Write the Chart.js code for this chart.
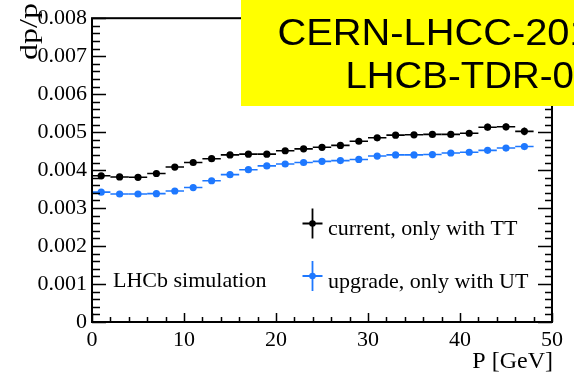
<!DOCTYPE html>
<html>
<head>
<meta charset="utf-8">
<script src="https://cdn.jsdelivr.net/npm/chart.js@4/dist/chart.umd.min.js"></script>
<style>
  html, body { margin: 0; padding: 0; background: #fff; }
  canvas { display: block; }
</style>
</head>
<body>
<canvas id="res" width="574" height="376"></canvas>
<script>
// Momentum bin centres [GeV] (bins are 2 GeV wide)
const momentum = [1, 3, 5, 7, 9, 11, 13, 15, 17, 19, 21, 23, 25, 27, 29, 31, 33, 35, 37, 39, 41, 43, 45, 47];
const binHalfWidth = 1;

// Relative momentum resolution dp/p, current tracker (with TT)
const currentTT = [0.00385, 0.00382, 0.00381, 0.00391, 0.00408, 0.00420, 0.00430, 0.00440,
                   0.00442, 0.00442, 0.00451, 0.00456, 0.00460, 0.00465, 0.00476, 0.00485,
                   0.00492, 0.00493, 0.00494, 0.00494, 0.00497, 0.00513, 0.00514, 0.00502];
const currentErr = [0.00003, 0.00003, 0.00003, 0.00003, 0.00003, 0.00003, 0.00003, 0.00003,
                    0.00003, 0.00003, 0.00003, 0.00003, 0.00003, 0.00003, 0.00004, 0.00004,
                    0.00004, 0.00004, 0.00005, 0.00005, 0.00006, 0.00009, 0.00009, 0.00010];

// Relative momentum resolution dp/p, upgraded tracker (with UT)
const upgradeUT = [0.00342, 0.00337, 0.00337, 0.00338, 0.00345, 0.00354, 0.00372, 0.00388,
                   0.00401, 0.00411, 0.00416, 0.00420, 0.00423, 0.00425, 0.00428, 0.00437,
                   0.00440, 0.00440, 0.00441, 0.00445, 0.00447, 0.00452, 0.00458, 0.00462];
const upgradeErr = [0.00002, 0.00002, 0.00002, 0.00002, 0.00002, 0.00002, 0.00002, 0.00002,
                    0.00002, 0.00002, 0.00002, 0.00002, 0.00002, 0.00002, 0.00003, 0.00003,
                    0.00003, 0.00003, 0.00003, 0.00003, 0.00003, 0.00004, 0.00004, 0.00004];

const xTickLabels = ['0', '10', '20', '30', '40', '50'];
const yTickLabels = ['0', '0.001', '0.002', '0.003', '0.004', '0.005', '0.006', '0.007', '0.008'];

const seriesNames = ['current, only with TT', 'upgrade, only with UT'];
const annotation = 'LHCb simulation';
const docRefs = ['CERN-LHCC-2014-001', 'LHCB-TDR-015'];
const xTitle = 'P [GeV]';
const yTitle = 'dp/p';

const BLACK = '#000000';
const BLUE = '#1e78ff';
const SERIF = '"Liberation Serif", "DejaVu Serif", serif';
const SANS = '"Liberation Sans", Arial, sans-serif';

const toPoints = (ys, errs) => momentum.map((x, i) => ({ x: x, y: ys[i], err: errs[i] }));

// Horizontal bin-width bars and vertical error bars under the markers
const errorBars = {
  id: 'errorBars',
  beforeDatasetsDraw(chart) {
    const { ctx, scales: { x, y } } = chart;
    ctx.save();
    ctx.lineWidth = 1.6;
    chart.data.datasets.forEach(ds => {
      ctx.strokeStyle = ds.borderColor;
      ds.data.forEach(p => {
        const py = y.getPixelForValue(p.y);
        ctx.beginPath();
        ctx.moveTo(x.getPixelForValue(p.x - binHalfWidth), py);
        ctx.lineTo(x.getPixelForValue(p.x + binHalfWidth), py);
        const px = x.getPixelForValue(p.x);
        ctx.moveTo(px, y.getPixelForValue(p.y - p.err));
        ctx.lineTo(px, y.getPixelForValue(p.y + p.err));
        ctx.stroke();
      });
    });
    ctx.restore();
  }
};

// Draws text at (x, baseline) stretched horizontally by sx
function stretchedText(ctx, text, x, yb, sx) {
  ctx.save();
  ctx.translate(x, yb);
  ctx.scale(sx, 1);
  ctx.fillText(text, 0, 0);
  ctx.restore();
}

// Frame, inward tick marks, legend, titles and the label box
const decorations = {
  id: 'decorations',
  beforeDraw(chart) {
    const ctx = chart.ctx;
    ctx.save();
    ctx.fillStyle = '#ffffff';
    ctx.fillRect(0, 0, chart.width, chart.height);
    ctx.restore();
  },
  afterDraw(chart) {
    const { ctx, chartArea: a, scales: { x, y } } = chart;
    ctx.save();
    ctx.strokeStyle = BLACK;

    // frame
    ctx.lineWidth = 2;
    ctx.strokeRect(a.left, a.top, a.right - a.left, a.bottom - a.top);

    // y ticks: left and right, 5 subdivisions per major step
    ctx.lineWidth = 1.5;
    ctx.beginPath();
    for (let k = 0; k <= 40; k++) {
      const py = Math.round(y.getPixelForValue(k * 0.0002)) + 0.5;
      const major = k % 5 === 0;
      ctx.moveTo(a.left, py); ctx.lineTo(a.left + (major ? 14 : 8), py);
      ctx.moveTo(a.right, py); ctx.lineTo(a.right - (major ? 14 : 7), py);
    }
    // x ticks: bottom, 5 subdivisions per major step
    for (let k = 0; k <= 25; k++) {
      const px = Math.round(x.getPixelForValue(k * 2)) + 0.5;
      const major = k % 5 === 0;
      ctx.moveTo(px, a.bottom); ctx.lineTo(px, a.bottom - (major ? 9 : 5));
    }
    ctx.stroke();

    // legend
    const entries = [{ cy: 223.5, ds: chart.data.datasets[0] }, { cy: 276, ds: chart.data.datasets[1] }];
    const lx = 312.5;
    entries.forEach(e => {
      ctx.strokeStyle = e.ds.borderColor;
      ctx.fillStyle = e.ds.backgroundColor;
      ctx.lineWidth = 1.8;
      ctx.beginPath();
      ctx.moveTo(lx - 10, e.cy); ctx.lineTo(lx + 10, e.cy);
      ctx.moveTo(lx, e.cy - 15); ctx.lineTo(lx, e.cy + 15);
      ctx.stroke();
      ctx.beginPath();
      ctx.arc(lx, e.cy, 3.3, 0, Math.PI * 2);
      ctx.fill();
      ctx.fillStyle = BLACK;
      ctx.font = '22px ' + SERIF;
      ctx.textAlign = 'left';
      ctx.textBaseline = 'alphabetic';
      ctx.fillText(e.ds.label, 328, e.cy + 11.5);
    });

    // annotation
    ctx.fillStyle = BLACK;
    ctx.font = '22px ' + SERIF;
    ctx.fillText(annotation, 113, 287);

    // x axis title
    ctx.font = '24px ' + SERIF;
    ctx.textAlign = 'right';
    ctx.fillText(xTitle, a.right + 1, 368);

    // y axis title, rotated, ending at the top
    ctx.save();
    ctx.font = '26px ' + SERIF;
    const w = ctx.measureText(yTitle).width;
    ctx.translate(37, 3);
    ctx.rotate(-Math.PI / 2);
    ctx.scale(57 / w, 1);
    ctx.textAlign = 'right';
    ctx.fillText(yTitle, 0, 0);
    ctx.restore();

    // document reference box
    ctx.fillStyle = '#ffff00';
    ctx.fillRect(241, 0, chart.width - 241, 106);
    ctx.fillStyle = BLACK;
    ctx.font = '37px ' + SANS;
    ctx.textAlign = 'left';
    stretchedText(ctx, docRefs[0], 277.5, 45, 1.076);
    stretchedText(ctx, docRefs[1], 345.5, 87.5, 1.038);

    ctx.restore();
  }
};

new Chart(document.getElementById('res'), {
  type: 'scatter',
  data: {
    datasets: [
      {
        label: seriesNames[0],
        data: toPoints(currentTT, currentErr),
        backgroundColor: BLACK,
        borderColor: BLACK,
        pointRadius: 3.6,
        pointBorderWidth: 0,
        showLine: false
      },
      {
        label: seriesNames[1],
        data: toPoints(upgradeUT, upgradeErr),
        backgroundColor: BLUE,
        borderColor: BLUE,
        pointRadius: 3.6,
        pointBorderWidth: 0,
        showLine: false
      }
    ]
  },
  options: {
    responsive: false,
    animation: false,
    events: [],
    layout: { padding: { top: 15, right: 22, left: 0, bottom: 0 } },
    plugins: { legend: { display: false }, tooltip: { enabled: false } },
    scales: {
      x: {
        type: 'linear',
        min: 0,
        max: 50,
        grid: { display: false, drawTicks: false },
        border: { display: false },
        ticks: {
          stepSize: 10,
          padding: 5,
          color: BLACK,
          font: { family: SERIF, size: 22 },
          maxRotation: 0,
          callback: (v, i) => xTickLabels[i]
        },
        afterFit: s => { s.height = 54; }
      },
      y: {
        type: 'linear',
        min: 0,
        max: 0.008,
        grid: { display: false, drawTicks: false },
        border: { display: false },
        ticks: {
          stepSize: 0.001,
          padding: 5,
          color: BLACK,
          font: { family: SERIF, size: 22 },
          callback: (v, i) => yTickLabels[i]
        },
        afterFit: s => { s.width = 92; }
      }
    }
  },
  plugins: [errorBars, decorations]
});
</script>
</body>
</html>
